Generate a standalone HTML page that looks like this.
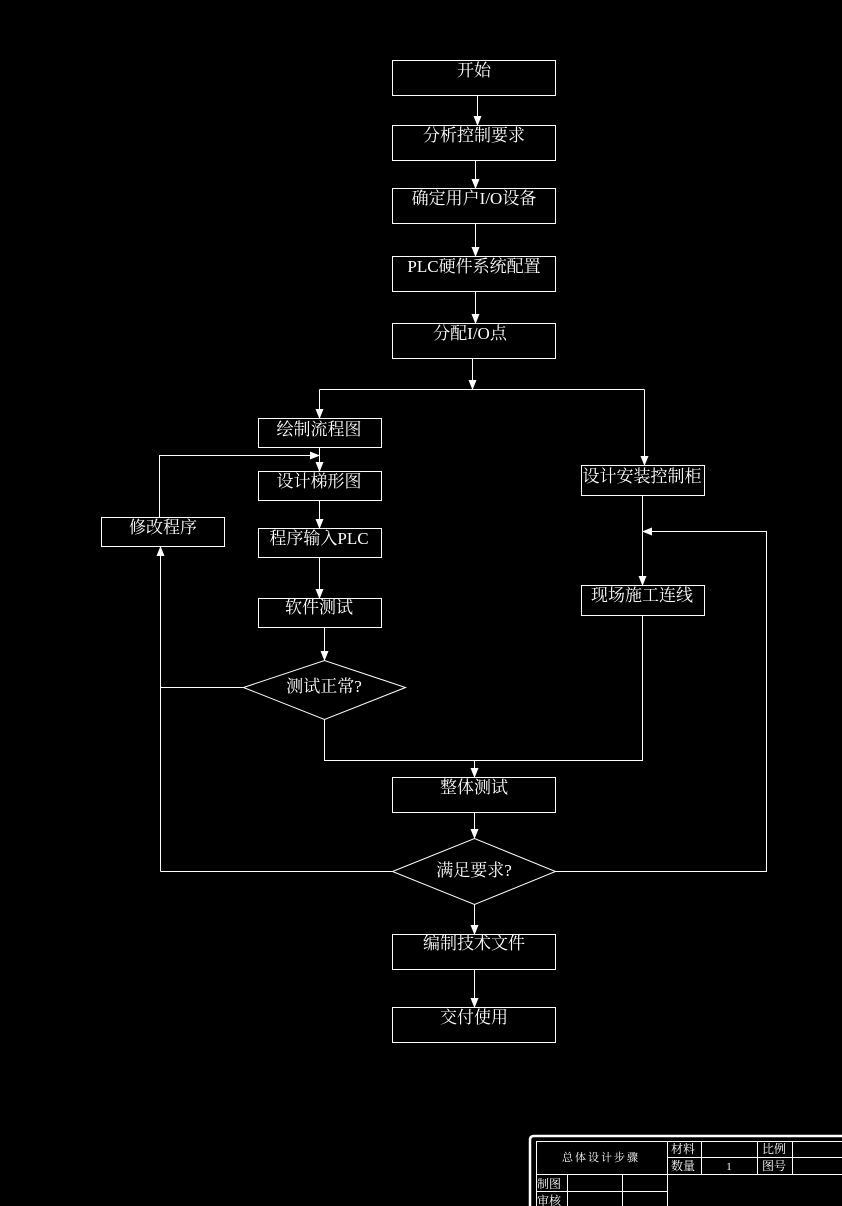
<!DOCTYPE html>
<html><head><meta charset="utf-8"><style>
html,body{margin:0;padding:0;background:#000;}
svg{display:block;}
text{font-family:"Liberation Serif","Noto Serif CJK SC",serif;fill:#fff;}
</style></head><body>
<svg width="842" height="1206" viewBox="0 0 842 1206" xmlns="http://www.w3.org/2000/svg">
<defs>
<marker id="a" markerWidth="10" markerHeight="10" refX="9" refY="5" orient="auto" markerUnits="userSpaceOnUse">
<path d="M0,1 L10,5 L0,9 Z" fill="#fff"/></marker>
</defs>
<g fill="none" stroke="#fff" stroke-width="1">
<rect x="392.5" y="60.5" width="163" height="35"/>
<rect x="392.5" y="125.5" width="163" height="35"/>
<rect x="392.5" y="188.5" width="163" height="35"/>
<rect x="392.5" y="256.5" width="163" height="35"/>
<rect x="392.5" y="323.5" width="163" height="35"/>
<rect x="258.5" y="418.5" width="123" height="29"/>
<rect x="258.5" y="471.5" width="123" height="29"/>
<rect x="101.5" y="517.5" width="123" height="29"/>
<rect x="258.5" y="528.5" width="123" height="29"/>
<rect x="258.5" y="598.5" width="123" height="29"/>
<rect x="581.5" y="465.5" width="123" height="30"/>
<rect x="581.5" y="585.5" width="123" height="30"/>
<rect x="392.5" y="777.5" width="163" height="35"/>
<rect x="392.5" y="934.5" width="163" height="35"/>
<rect x="392.5" y="1007.5" width="163" height="35"/>
<polygon points="243.5,687.5 324.5,660.5 405.5,687.5 324.5,719.5"/>
<polygon points="392.5,871.5 474.5,838.5 555.5,871.5 474.5,904.5"/>
<g marker-end="url(#a)">
<line x1="477.5" y1="95" x2="477.5" y2="125"/>
<line x1="475.5" y1="160" x2="475.5" y2="188"/>
<line x1="475.5" y1="223" x2="475.5" y2="256"/>
<line x1="475.5" y1="291" x2="475.5" y2="323"/>
<line x1="472.5" y1="358" x2="472.5" y2="389"/>
<polyline points="319.5,389.5 319.5,418"/>
<polyline points="644.5,389.5 644.5,465"/>
<line x1="319.5" y1="447" x2="319.5" y2="471"/>
<polyline points="159.5,517 159.5,455.5 319,455.5"/>
<line x1="319.5" y1="500" x2="319.5" y2="528"/>
<line x1="319.5" y1="557" x2="319.5" y2="598"/>
<line x1="324.5" y1="627" x2="324.5" y2="660"/>
<polyline points="160.5,871.5 160.5,547"/>
<line x1="642.5" y1="495" x2="642.5" y2="585"/>
<polyline points="555,871.5 766.5,871.5 766.5,531.5 643,531.5"/>
<line x1="474.5" y1="760.5" x2="474.5" y2="777"/>
<line x1="474.5" y1="812" x2="474.5" y2="838"/>
<line x1="474.5" y1="904" x2="474.5" y2="934"/>
<line x1="474.5" y1="969" x2="474.5" y2="1007"/>
</g>
<line x1="319.5" y1="389.5" x2="644.5" y2="389.5"/>
<line x1="243" y1="687.5" x2="160.5" y2="687.5"/>
<line x1="392" y1="871.5" x2="160.5" y2="871.5"/>
<polyline points="324.5,719.5 324.5,760.5 642.5,760.5 642.5,615"/>
</g>
<g font-size="17" text-anchor="middle">
<text x="474" y="76">开始</text>
<text x="474" y="141">分析控制要求</text>
<text x="474" y="204">确定用户I/O设备</text>
<text x="474" y="272">PLC硬件系统配置</text>
<text x="470" y="339">分配I/O点</text>
<text x="319" y="435">绘制流程图</text>
<text x="319" y="487">设计梯形图</text>
<text x="163" y="533">修改程序</text>
<text x="319" y="544">程序输入PLC</text>
<text x="319" y="613">软件测试</text>
<text x="324" y="692">测试正常?</text>
<text x="642" y="482">设计安装控制柜</text>
<text x="642" y="601">现场施工连线</text>
<text x="474" y="793">整体测试</text>
<text x="474" y="876">满足要求?</text>
<text x="474" y="949">编制技术文件</text>
<text x="474" y="1023">交付使用</text>
</g>
<g fill="none" stroke="#fff">
<path d="M530,1206 V1140 Q530,1136 534,1136 H842" stroke-width="2.5"/>
<g stroke-width="1">
<rect x="536.5" y="1141.5" width="306" height="70"/>
<line x1="536" y1="1174.5" x2="667" y2="1174.5"/>
<line x1="536" y1="1191.5" x2="667" y2="1191.5"/>
<line x1="667" y1="1157.5" x2="842" y2="1157.5"/>
<line x1="667" y1="1174.5" x2="842" y2="1174.5"/>
<line x1="667.5" y1="1141" x2="667.5" y2="1206"/>
<line x1="567.5" y1="1174" x2="567.5" y2="1206"/>
<line x1="622.5" y1="1174" x2="622.5" y2="1206"/>
<line x1="701.5" y1="1141" x2="701.5" y2="1174"/>
<line x1="757.5" y1="1141" x2="757.5" y2="1174"/>
<line x1="792.5" y1="1141" x2="792.5" y2="1174"/>
</g>
</g>
<g font-size="11">
<text x="601" y="1161" text-anchor="middle" font-size="11" letter-spacing="2">总体设计步骤</text>
<text x="671" y="1153" font-size="12">材料</text>
<text x="671" y="1170" font-size="12">数量</text>
<text x="729" y="1170" text-anchor="middle">1</text>
<text x="762" y="1153" font-size="12">比例</text>
<text x="762" y="1170" font-size="12">图号</text>
<text x="537" y="1188" font-size="12">制图</text>
<text x="537" y="1205" font-size="12">审核</text>
</g>
</svg>
</body></html>
